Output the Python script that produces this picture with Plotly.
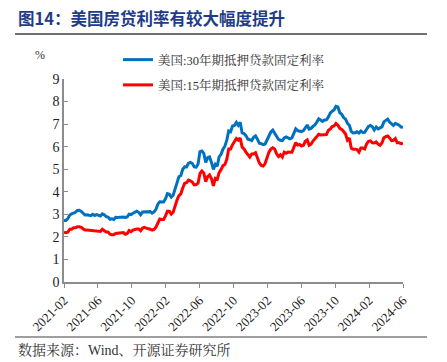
import pandas as pd
import plotly.graph_objects as go

# Weekly dates (Thursdays), 2021-02-04 .. 2024-06-27
dates = pd.date_range("2021-02-04", periods=178, freq="7D")

rate_30y_2021 = [2.73, 2.73, 2.81, 2.97, 3.02, 3.05, 3.09, 3.17, 3.18, 3.13, 3.04, 2.97, 2.98,
                 2.96, 2.94, 3.00, 2.95, 2.99, 2.96, 2.93, 3.02, 2.98, 2.90, 2.88, 2.78, 2.80,
                 2.77, 2.87, 2.86, 2.87, 2.87, 2.88, 2.86, 2.88, 3.01, 2.99, 3.05, 3.09, 3.14,
                 3.09, 2.98, 3.10, 3.10, 3.11, 3.10, 3.12, 3.05, 3.11]
rate_30y_2022 = [3.22, 3.45, 3.56, 3.55, 3.55, 3.69, 3.92, 3.89, 3.76, 3.85, 4.16, 4.42, 4.67,
                 4.72, 5.00, 5.11, 5.10, 5.27, 5.30, 5.25, 5.10, 5.09, 5.23, 5.78, 5.81, 5.70,
                 5.30, 5.51, 5.54, 5.30, 4.99, 5.22, 5.13, 5.55, 5.66, 5.89, 6.02, 6.29, 6.70,
                 6.66, 6.92, 6.94, 7.08, 6.95, 7.08, 6.61, 6.58, 6.49, 6.33, 6.31, 6.27, 6.42]
rate_30y_2023 = [6.48, 6.33, 6.15, 6.13, 6.09, 6.12, 6.32, 6.50, 6.65, 6.73, 6.60, 6.42, 6.32,
                 6.28, 6.27, 6.39, 6.43, 6.39, 6.35, 6.39, 6.57, 6.79, 6.71, 6.69, 6.67, 6.71,
                 6.81, 6.96, 6.78, 6.81, 6.90, 6.96, 7.09, 7.23, 7.18, 7.12, 7.18, 7.19, 7.31,
                 7.49, 7.57, 7.63, 7.79, 7.76, 7.50, 7.44, 7.29, 7.22, 7.03, 6.95, 6.67, 6.61]
rate_30y_2024 = [6.62, 6.66, 6.60, 6.69, 6.63, 6.64, 6.77, 6.90, 6.94, 6.88, 6.74, 6.87, 6.79,
                 6.82, 6.88, 7.10, 7.17, 7.22, 7.09, 7.02, 6.94, 7.03, 6.99, 6.95, 6.87, 6.86]

rate_15y_2021 = [2.21, 2.19, 2.21, 2.34, 2.34, 2.40, 2.40, 2.45, 2.45, 2.42, 2.35, 2.31, 2.31,
                 2.30, 2.29, 2.29, 2.27, 2.25, 2.23, 2.24, 2.34, 2.26, 2.22, 2.22, 2.12, 2.10,
                 2.10, 2.15, 2.16, 2.18, 2.18, 2.19, 2.12, 2.15, 2.28, 2.23, 2.30, 2.33, 2.35,
                 2.35, 2.27, 2.39, 2.42, 2.39, 2.38, 2.34, 2.30, 2.33]
rate_15y_2022 = [2.43, 2.62, 2.79, 2.77, 2.77, 2.93, 3.14, 3.14, 3.01, 3.09, 3.39, 3.63, 3.83,
                 3.91, 4.17, 4.38, 4.40, 4.52, 4.48, 4.43, 4.31, 4.32, 4.38, 4.81, 4.92, 4.83,
                 4.45, 4.67, 4.75, 4.58, 4.26, 4.59, 4.55, 4.85, 4.98, 5.16, 5.21, 5.44, 5.90,
                 5.90, 6.09, 6.23, 6.36, 6.29, 6.38, 5.98, 5.90, 5.76, 5.67, 5.54, 5.68, 5.68]
rate_15y_2023 = [5.73, 5.52, 5.28, 5.17, 5.14, 5.25, 5.51, 5.76, 5.89, 5.95, 5.90, 5.68, 5.56,
                 5.64, 5.54, 5.76, 5.71, 5.76, 5.75, 5.75, 5.97, 6.18, 6.07, 6.10, 6.03, 6.06,
                 6.24, 6.30, 6.06, 6.11, 6.25, 6.34, 6.46, 6.55, 6.52, 6.52, 6.51, 6.54, 6.72,
                 6.78, 6.89, 6.92, 7.03, 6.95, 6.81, 6.76, 6.67, 6.56, 6.29, 6.38, 5.93, 5.89]
rate_15y_2024 = [5.89, 5.87, 5.76, 5.94, 5.94, 5.90, 6.12, 6.24, 6.26, 6.17, 6.16, 6.21, 6.11,
                 6.06, 6.16, 6.39, 6.44, 6.47, 6.39, 6.27, 6.28, 6.36, 6.17, 6.17, 6.13, 6.16]

rate_30y = rate_30y_2021 + rate_30y_2022 + rate_30y_2023 + rate_30y_2024
rate_15y = rate_15y_2021 + rate_15y_2022 + rate_15y_2023 + rate_15y_2024

tick_labels = ["2021-02", "2021-06", "2021-10", "2022-02", "2022-06", "2022-10",
               "2023-02", "2023-06", "2023-10", "2024-02", "2024-06"]
tick_vals = pd.date_range(dates[0], dates[-1], periods=len(tick_labels))

name_30 = "美国:30年期抵押贷款固定利率"
name_15 = "美国:15年期抵押贷款固定利率"

W, H = 447, 362
L, R, T, B = 64, 403, 79, 282  # plot area in px


def px(x):
    return (x - L) / (R - L)


def py(y):
    return (B - y) / (B - T)


serif = "Liberation Serif, Noto Serif CJK SC, Noto Sans CJK SC, serif"
cjk = "Noto Sans CJK SC, sans-serif"

fig = go.Figure()
fig.add_trace(go.Scatter(x=dates, y=rate_30y, mode="lines", name=name_30,
                         legendgroup="a",
                         line=dict(color="#0070C0", width=3)))
fig.add_trace(go.Scatter(x=dates, y=rate_15y, mode="lines", name=name_15,
                         legendgroup="b",
                         line=dict(color="#FF0000", width=3)))

fig.update_layout(
    width=W, height=H,
    margin=dict(l=L, r=W - R, t=T, b=H - B, autoexpand=False),
    plot_bgcolor="white", paper_bgcolor="white",
    showlegend=True,
    legend=dict(x=px(118), y=py(45), xanchor="left", yanchor="top",
                bgcolor="rgba(0,0,0,0)", tracegroupgap=6,
                font=dict(family=serif, size=12.5, color="#333333")),
    xaxis=dict(range=[dates[0], dates[-1]], tickvals=tick_vals, ticktext=tick_labels,
               tickangle=-45, showgrid=False, zeroline=False, automargin=False,
               showline=True, linecolor="#8c8c8c", linewidth=1.5,
               ticks="outside", ticklen=4, tickcolor="#8c8c8c",
               tickfont=dict(family=serif, size=13, color="#222222")),
    yaxis=dict(range=[0, 9], dtick=1, showgrid=False, zeroline=False, automargin=False,
               showline=True, linecolor="#8c8c8c", linewidth=1.5,
               ticks="inside", ticklen=4, tickcolor="#8c8c8c",
               tickfont=dict(family=serif, size=14, color="#222222")),
    annotations=[
        dict(text="<b>图14：美国房贷利率有较大幅度提升</b>", xref="paper", yref="paper",
             x=px(16), y=py(18), xanchor="left", yanchor="middle", showarrow=False,
             font=dict(family=cjk, size=16.5, color="#1F3C88")),
        dict(text="%", xref="paper", yref="paper", x=px(40), y=py(55),
             xanchor="center", yanchor="middle", showarrow=False,
             font=dict(family=serif, size=12, color="#333333")),
        dict(text="数据来源：Wind、开源证券研究所", xref="paper", yref="paper",
             x=px(16), y=py(350), xanchor="left", yanchor="middle", showarrow=False,
             font=dict(family=serif, size=14, color="#333333")),
    ],
    shapes=[
        dict(type="line", xref="paper", yref="paper", x0=px(15), x1=px(427),
             y0=py(34), y1=py(34), line=dict(color="#404040", width=1.5)),
        dict(type="line", xref="paper", yref="paper", x0=px(15), x1=px(427),
             y0=py(337), y1=py(337), line=dict(color="#404040", width=1.2)),
    ],
)

fig.write_html("out.html", config={"displayModeBar": False},
               post_script="document.body.style.margin='0';")
